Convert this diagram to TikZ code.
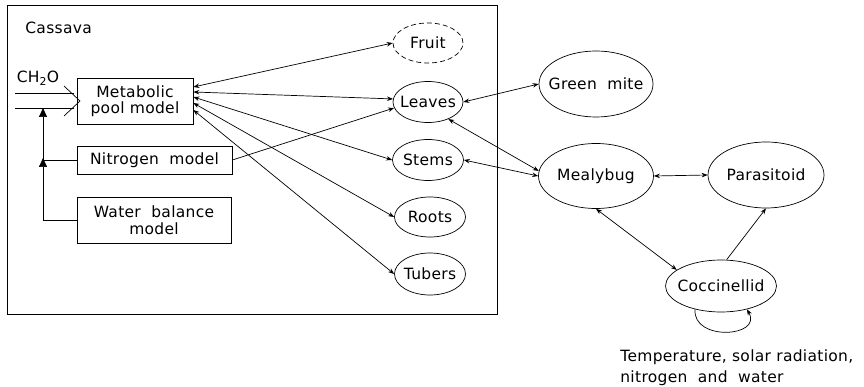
\documentclass[tikz,border=0pt]{standalone}
\usepackage{fontspec}
\setmainfont[LetterSpace=2]{DejaVu Sans}
\usetikzlibrary{shapes.geometric,arrows.meta}
\newcommand{\zw}[1]{\makebox[0pt]{#1}}
\begin{document}
\begin{tikzpicture}[x=1pt,y=-1pt,line width=0.7pt,
  font=\fontsize{15.5}{16.5}\selectfont,
  box/.style={draw,rectangle,inner sep=0pt,align=center},
  oval/.style={draw,ellipse,inner sep=0pt},
  arr/.style={-{Stealth[length=6pt,width=4.5pt,inset=2pt]}},
  darr/.style={{Stealth[length=6pt,width=4.5pt,inset=2pt]}-{Stealth[length=6pt,width=4.5pt,inset=2pt]}},
  tri/.style={-{Triangle[length=9pt,width=8pt]}},
  plain/.style={inner sep=0pt,align=left}]
\useasboundingbox (0,0) rectangle (864,387);
% Cassava frame
\draw (7,5) rectangle (497,314);
\node[plain,anchor=base west] (cas) at (25,34) {Cassava};
% models
\node[box,minimum width=116pt,minimum height=46pt] (meta) at (135,101) {Metabolic\\pool model};
\node[box,minimum width=155pt,minimum height=28pt] (nitro) at (154.5,160) {Nitrogen\ \ model};
\node[box,minimum width=154pt,minimum height=46pt] (water) at (154,220) {Water\ \ balance\\model};
% input CH2O
\node[plain] (ch2o) at (38,78) {CH\textsubscript{2}O};
\coordinate (in1) at (15,93);
\coordinate (in2) at (15,108);
\coordinate (e1) at (74,93);
\coordinate (e2) at (74,108);
\coordinate (cv1) at (64,86);
\coordinate (cv2) at (80,101);
\coordinate (cv3) at (64,116);
\draw (in1) -- (e1);
\draw (in2) -- (e2);
\draw (cv1) -- (cv2) -- (cv3);
% feedback
\coordinate (j0) at (43,108);
\coordinate (j1) at (43,160);
\coordinate (j1t) at (43,158);
\coordinate (j2) at (43,220);
\draw (nitro.west) -- (j1);
\draw[tri] (water.west) -- (j2) -- (j1t);
\draw[tri] (j1) -- (j0);
% organs
\node[oval,dashed,dash pattern=on 5pt off 3pt,minimum width=70pt,minimum height=40pt] (fruit) at (428,43) {\zw{Fruit}};
\node[oval,minimum width=70pt,minimum height=41pt] (leaves) at (428,102) {\zw{Leaves}};
\node[oval,minimum width=71pt,minimum height=41pt] (stems) at (428,160) {\zw{Stems}};
\node[oval,minimum width=71pt,minimum height=40pt] (roots) at (430,217) {\zw{Roots}};
\node[oval,minimum width=71pt,minimum height=42pt] (tubers) at (430,274) {\zw{Tubers}};
% animals
\node[oval,minimum width=114pt,minimum height=66pt] (gmite) at (596,84) {\zw{Green\ \ mite}};
\node[oval,minimum width=115pt,minimum height=65pt] (mealy) at (596,176) {\zw{Mealybug}};
\node[oval,minimum width=116pt,minimum height=66pt] (para) at (766,175) {\zw{Parasitoid}};
\node[oval,minimum width=111pt,minimum height=52pt] (cocc) at (721,286) {\zw{Coccinellid}};
\node[plain,anchor=base west,font=\fontsize{15.5}{21}\selectfont] (env) at (620,382) {Temperature, solar radiation,\\nitrogen\ \ and\ \ water};
% pool <-> organs
\coordinate (m1) at ([yshift=14pt]meta.east);
\coordinate (m2) at ([yshift=9pt]meta.east);
\coordinate (m3) at ([yshift=4pt]meta.east);
\coordinate (m4) at ([yshift=-2pt]meta.east);
\coordinate (m5) at ([yshift=-9pt]meta.east);
\draw[darr] (m1) -- (fruit.west);
\draw[darr] (m2) -- (leaves.175);
\draw[darr] (m3) -- (stems.west);
\draw[darr] (m4) -- (roots.west);
\draw[darr] (m5) -- (tubers.west);
\draw[arr] (nitro.east) -- (leaves.190);
% pests
\draw[darr] (leaves.east) -- (gmite.west);
\draw[darr] (leaves.-40) -- (mealy.175);
\draw[darr] (stems.east) -- (mealy.west);
\draw[darr] (mealy.east) -- (para.west);
\draw[darr] (mealy.south) -- (cocc.160);
\draw[arr] (cocc.78) -- (para.south);
\draw[arr] (cocc.-138) to[out=-95,in=-60,looseness=1.6] (cocc.-42);
\end{tikzpicture}
\end{document}
